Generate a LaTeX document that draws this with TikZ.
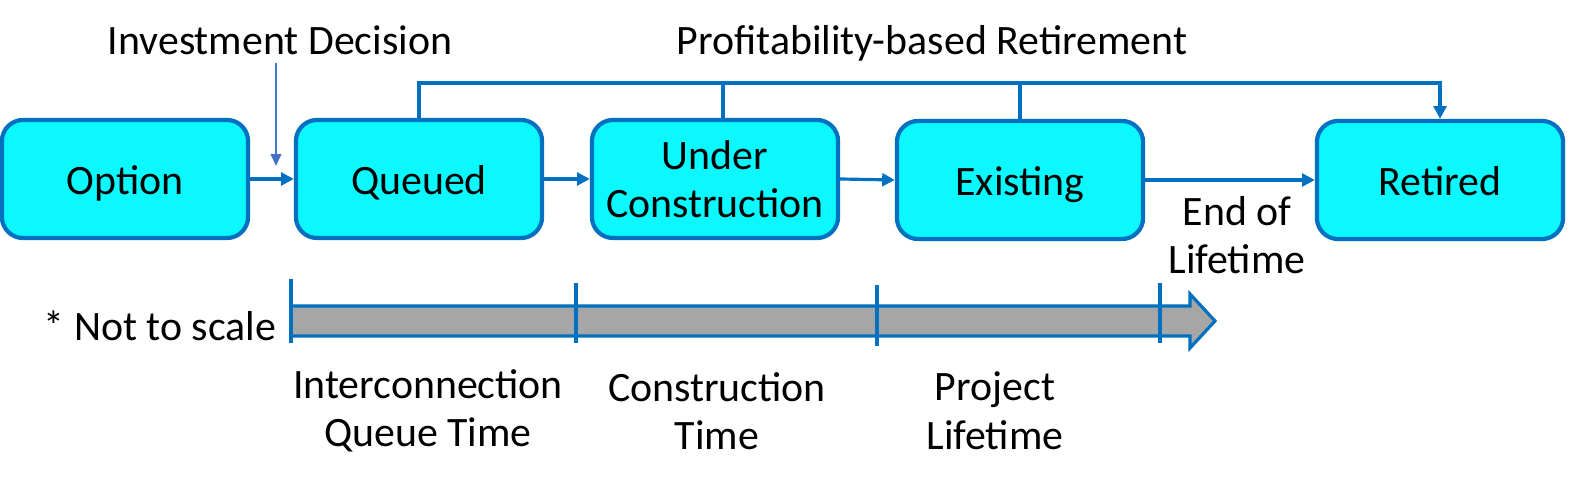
\documentclass[tikz,border=0pt]{standalone}
\usepackage{fontspec}
\setmainfont{Carlito}
\usepackage{xcolor}
\usetikzlibrary{positioning,calc,arrows.meta}
\definecolor{boxcyan}{HTML}{0BF8FF}
\definecolor{edgeblue}{HTML}{0070C0}
\definecolor{decblue}{HTML}{4472C4}
\definecolor{bargray}{HTML}{A6A6A6}

\begin{document}
\begin{tikzpicture}[
					x=0.01cm, y=-0.01cm, % 1 đơn vị = 1 px, trục y đi xuống
					font=\fontsize{11.9}{13.8}\selectfont,
					stage/.style={           % Ô trạng thái (xanh lơ)
						draw=edgeblue, line width=1.2pt,
						fill=boxcyan,
						rounded corners=6pt,
						minimum width=2.46cm,
						minimum height=1.18cm,
						align=center
					},
					oneline/.style={text height=2.05ex, text depth=0.2ex},
					flow/.style={            % Mũi tên nối các ô
						-{Triangle[length=3.6pt,width=3.6pt]},
						edgeblue, line width=0.9pt
					},
					link/.style={            % Đường nối không mũi tên
						-, edgeblue, line width=0.9pt
					},
					decision/.style={        % Mũi tên mảnh (quyết định đầu tư)
						-{Triangle[length=3.4pt,width=3pt]},
						decblue, line width=0.6pt
					},
					lbl/.style={align=center, inner sep=0pt},
					tickline/.style={edgeblue, line width=0.9pt},
					bar/.style={draw=edgeblue, fill=bargray, line width=0.9pt, line join=miter}
					]
					\useasboundingbox (0,0) rectangle (1580,489);
					
					% --- CÁC Ô ---
					\node[stage, oneline] (opt) at (125,179) {Option};
					\node[stage, oneline] (que) at (419,179) {Queued};
					\node[stage] (uc) at (715,179) {Under\\Construction};
					\node[stage, oneline] (ex) at (1020,180) {Existing};
					\node[stage, oneline] (ret) at (1440,180) {Retired};
					
					% Mũi tên giữa các ô
					\draw[flow] (opt.east) -- (que.west);
					\draw[flow] (que.east) -- (uc.west);
					\draw[flow] (uc.east) -- (ex.west);
					\draw[flow] (ex.east) -- (ret.west);
					
					% --- ĐƯỜNG NGHỈ HƯU THEO LỢI NHUẬN ---
					\coordinate (top) at (0,83);
					\draw[flow] (que.north) |- (ret.north |- top) -- (ret.north);
					\draw[link] ([xshift=0.08cm]uc.north) -- ([xshift=0.08cm]uc.north |- top);
					\draw[link] (ex.north) -- (ex.north |- top);
					
					% --- NHÃN ---
					\node[lbl] (invtxt) at (280,40) {Investment Decision};
					\node[lbl] (proftxt) at (932,43) {Profitability-based Retirement};
					\coordinate (invend) at (276,166);
					\draw[decision] (invtxt.south -| invend) ++(0,8) -- (invend);
					\node[lbl] (eol) at (1237,235) {End of\\Lifetime};
					
					% --- TRỤC THỜI GIAN ---
					\draw[bar] (291,306) -- (1190,306) -- (1190,294) -- (1215,321)
						-- (1190,348) -- (1190,336) -- (291,336) -- cycle;
					\foreach \x/\a/\b in {291/279/343, 576/283/343, 877/285/346, 1160/283/343} {
						\draw[tickline] (\x,\a) -- (\x,\b);
					}
					\node[lbl] (scale) at (160,326) {* Not to scale};
					\node[lbl] (tq) at (428,411) {Interconnection\\Queue Time};
					\node[lbl] (tc) at (717,411) {Construction\\Time};
					\node[lbl] (tl) at (995,411) {Project\\Lifetime};
					
				\end{tikzpicture}
\end{document}
